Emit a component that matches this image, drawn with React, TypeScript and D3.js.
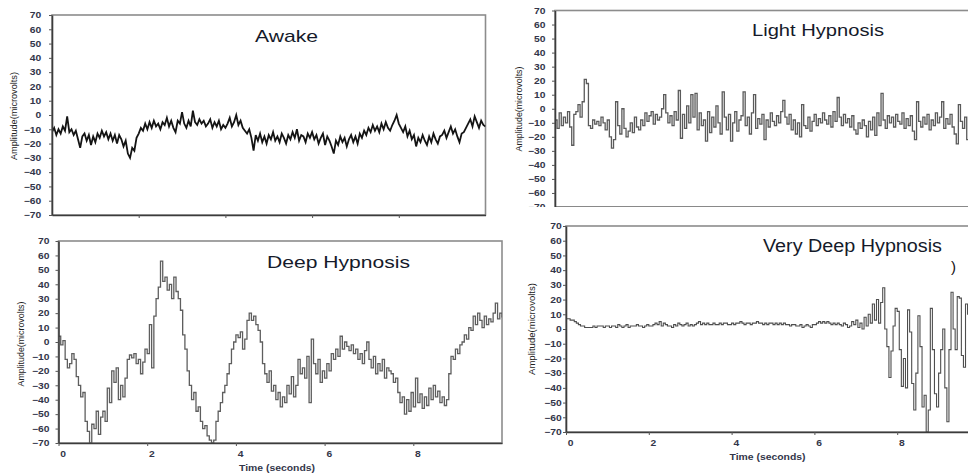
import * as d3 from "d3";
import React, { useRef, useEffect } from "react";

// amplitude ticks (microvolts) and time ticks (seconds)
const yTickValues = [70, 60, 50, 40, 30, 20, 10, 0, -10, -20, -30, -40, -50, -60, -70];
const xTickValues = [0, 2, 4, 6, 8];
const sampleStep = 0.05; // seconds between samples

// traces, one value every 0.05 s from 0 to 10 s
const awake = [
  -12, -9, -14, -10, -13, -8, -11, -1, -12, -10,
  -14, -11, -17, -23, -15, -13, -18, -14, -21, -15,
  -19, -13, -16, -11, -15, -12, -17, -13, -18, -14,
  -20, -14, -17, -22, -18, -27, -30, -23, -25, -16,
  -13, -9, -11, -6, -10, -5, -9, -4, -8, -6,
  -10, -5, -7, -2, -8, -4, -9, -12, -4, -6,
  2, -6, -9, -4, -8, 3, -5, -7, -3, -6,
  -4, -8, -6, -3, -9, -5, -8, -4, -10, -7,
  -9, -6, -2, -8, -5, 0, -7, -4, -9, -11,
  -13, -10, -16, -25, -14, -18, -13, -19, -15, -20,
  -14, -17, -12, -18, -15, -19, -13, -16, -20, -14,
  -17, -12, -16, -10, -18, -14, -15, -19, -13, -16,
  -12, -17, -14, -20, -16, -13, -21, -15, -18, -22,
  -27, -18, -21, -15, -19, -16, -22, -17, -14, -19,
  -15, -20, -13, -16, -11, -14, -9, -12, -7, -11,
  -8, -12, -6, -10, -5, -9, -11, -7, -4, 0,
  -6, -9, -12, -8, -15, -11, -17, -14, -22, -16,
  -19, -14, -18, -21, -15, -19, -13, -17, -20, -15,
  -14, -11, -16, -12, -8, -13, -10, -15, -19, -13,
  -12, -9, -6, -3, -8, -1, -5, -9, -4, -7,
  -8,
];

const lightHypnosis = [
  -8, -14, -3, -12, -6, -10, -2, -13, -26, -4,
  -2, 3, -6, 5, 21, 18, -12, -14, -8, -11,
  -9, -12, -6, -10, -15, -8, -20, -28, -22, 5,
  -12, -18, 0, -14, -20, -16, -10, -17, -6, -13,
  -15, -8, -12, -3, -9, -5, -2, -11, -4, -8,
  -6, 0, 10, -3, -10, -5, -12, -2, -8, 13,
  -21, -4, -14, 2, -10, 10, -6, 11, -15, -3,
  -12, -8, -23, -2, -17, -6, -13, 2, -10, -18,
  12, -6, -15, -4, -23, -10, -2, -16, -8, -5,
  12, -12, -6, -18, -3, 10, -14, -7, -11, -4,
  -22, -8, -13, -3, -9, -12, -5, -10, -2, 6,
  -6, -11, -4, -15, -8, -18, -10, -20, 3, -12,
  -14, -6, -16, -9, -4, -12, -7, -10, -3, -8,
  -11, -5, -13, -2, -9, 8, -6, -12, -4, -10,
  -7, -13, -5, -15, -18, -10, -14, -8, -12, -20,
  -9, -15, -6, -19, -3, -12, 11, -8, -14, -5,
  -10, -6, -13, -4, -9, -11, -3, -14, -7, -12,
  -5, -16, -22, 5, -9, -13, -6, -11, -4, -15,
  -8, -12, -3, -10, -6, 5, -14, -7, -11, -4,
  -13, -18, -25, 3, -9, -14, -6, -22, -10, -8,
  -12,
];

const deepHypnosis = [
  4, -2, 1, -12, -18, -15, -8, -12, -24, -30,
  -38, -35, -55, -62, -70, -57, -60, -48, -64, -52,
  -48, -55, -32, -42, -20, -28, -18, -40, -30, -38,
  -25, -12, -9, -11, -8, -15, -12, -22, -14, -5,
  -8, 12, -18, 18, 30, 38, 56, 42, 45, 36,
  40, 30, 45, 35, 30, 22, 5, -5, -20, -30,
  -40, -35, -48, -45, -55, -60, -58, -65, -68, -70,
  -68, -55, -48, -42, -35, -30, -22, -15, -5, 0,
  5, 3, 7, -5, 2, 15, 20, 15, 18, 12,
  8, 0, -15, -22, -28, -20, -34, -30, -40, -35,
  -45, -38, -42, -30, -36, -24, -38, -30, -12, -22,
  -18, -25, -10, -42, 2, -15, -22, -12, -28, -20,
  -25, -15, -20, -8, -12, -5, -10, 4, -5, 0,
  -3, -6, -2, -8, -5, -12, -8, -15, -6, 0,
  -12, -18, -10, -22, -15, -20, -12, -25, -18, -20,
  -22, -28, -25, -35, -42, -38, -50, -40, -48, -35,
  -45, -25, -42, -36, -46, -38, -44, -32, -40, -30,
  -38, -34, -42, -38, -44, -40, -22, -10, -12, -5,
  -8, -2, 0, 5, 2, 10, 8, 18, 12, 20,
  15, 10, 18, 12, 16, 14, 20, 27, 16, 20,
  17,
];

const veryDeepHypnosis = [
  7, 7, 6, 6, 5, 4, 3, 2, 2, 1,
  1, 1, 1, 2, 1, 2, 2, 2, 1, 2,
  2, 1, 2, 2, 1, 3, 2, 1, 2, 3,
  1, 2, 2, 2, 3, 2, 2, 1, 2, 3,
  2, 2, 3, 4, 3, 5, 2, 4, 3, 2,
  2, 1, 3, 2, 4, 3, 2, 3, 4, 2,
  3, 2, 3, 4, 5, 3, 4, 3, 4, 3,
  3, 4, 3, 3, 4, 3, 4, 4, 3, 3,
  4, 3, 4, 4, 5, 4, 3, 4, 4, 3,
  4, 4, 5, 4, 4, 3, 4, 3, 4, 4,
  3, 4, 3, 4, 3, 4, 3, 3, 2, 3,
  3, 2, 2, 3, 1, 2, 3, 2, 1, 3,
  3, 4, 5, 4, 5, 4, 5, 4, 3, 4,
  3, 4, 3, 2, 4, 3, 1, 2, 5, 3,
  6, 1, 4, 0, 8, 2, 10, 4, 17, 6,
  20, 4, 18, 28, 0, -12, -33, -15, 2, 14,
  12, -14, -39, -20, -40, 13, -2, -37, -55, -30,
  9, -12, -53, -45, -70, -55, 14, -14, -44, -53,
  -30, -14, 0, -40, -63, -14, 25, 0, -14, 22,
  21, -18, -26, 17, 10, -20, 5, -15, 8, -10,
  0,
];

const titles = ["Awake", "Light Hypnosis", "Deep Hypnosis", "Very Deep Hypnosis"];
const series = [awake, lightHypnosis, deepHypnosis, veryDeepHypnosis];

// where each panel of the collage sits
const layout = [
  { x0: 52, x10: 485.5, top: 15, bottom: 215, frameRight: 485.5, pad: 6, timeLabels: false,
    clipBottom: 473, step: false, color: "#141414", width: 1.8,
    title: { x: 255, y: 41.5, len: 63, size: 17 },
    yLab: { x: 15, y: 116, len: 88 } },
  { x0: 555, x10: 973, top: 10.5, bottom: 207, frameRight: 980, pad: 5, timeLabels: false,
    clipBottom: 207, step: true, color: "#5a5a5a", width: 1.3,
    title: { x: 752, y: 35.5, len: 132, size: 16.5 },
    yLab: { x: 520, y: 109, len: 85 } },
  { x0: 58.5, x10: 502, top: 241, bottom: 443, frameRight: 502, pad: 4.5, timeLabels: true,
    clipBottom: 473, step: true, color: "#5e5e5e", width: 1.3,
    title: { x: 267, y: 268, len: 143, size: 17 },
    yLab: { x: 22, y: 344, len: 85 },
    time: { x: 277, y: 471 } },
  { x0: 566, x10: 980, top: 226, bottom: 432, frameRight: 990, pad: 0.5, timeLabels: true,
    clipBottom: 473, step: true, color: "#4e4e4e", width: 1.1,
    title: { x: 763, y: 251.5, len: 179, size: 17.5 },
    yLab: { x: 533, y: 329, len: 92 },
    time: { x: 767.5, y: 460 } },
];

const font = "'Liberation Sans', Arial, sans-serif";
const labelFill = "#33364a";

function EegPanels() {
  const svgRef = useRef<SVGSVGElement>(null);

  useEffect(() => {
    const svg = d3.select(svgRef.current);
    svg.selectAll("*").remove();

    layout.forEach((p, k) => {
      const x = d3.scaleLinear().domain([0, 10]).range([p.x0, p.x10]);
      const y = d3.scaleLinear().domain([-70, 70]).range([p.bottom, p.top]);

      svg.append("clipPath").attr("id", `cut${k}`)
        .append("rect").attr("x", 0).attr("y", 0).attr("width", 968).attr("height", p.clipBottom);
      svg.append("clipPath").attr("id", `plot${k}`)
        .append("rect").attr("x", p.x0).attr("y", p.top - 2)
        .attr("width", p.frameRight - p.x0).attr("height", p.bottom - p.top + 3);

      const g = svg.append("g").attr("clip-path", `url(#cut${k})`);

      // frame
      g.append("rect")
        .attr("x", p.x0).attr("y", p.top)
        .attr("width", p.frameRight - p.x0).attr("height", p.bottom - p.top)
        .attr("fill", "none").attr("stroke", "#8c8c8c").attr("stroke-width", 1.6);

      // trace
      const line = d3.line<number>()
        .x((d, i) => x(i * sampleStep))
        .y(d => y(d))
        .curve(p.step ? d3.curveStepAfter : d3.curveLinear);

      g.append("path")
        .datum(series[k])
        .attr("clip-path", `url(#plot${k})`)
        .attr("d", line)
        .attr("fill", "none")
        .attr("stroke", p.color)
        .attr("stroke-width", p.width);

      // y axis
      const yAxis = g.append("g")
        .attr("transform", `translate(${p.x0},0)`)
        .call(d3.axisLeft(y).tickValues(yTickValues).tickSize(3).tickSizeOuter(0).tickPadding(p.pad));
      yAxis.select(".domain").attr("stroke", "#3c3c3c").attr("stroke-width", 1.6);
      yAxis.selectAll(".tick line").attr("stroke", "#555");
      yAxis.selectAll(".tick text")
        .attr("font-family", font).attr("font-size", 8.6).attr("font-weight", "bold")
        .attr("fill", labelFill).attr("transform", "scale(1.2,1)");

      // x axis
      const xAxis = g.append("g")
        .attr("transform", `translate(0,${p.bottom})`)
        .call(d3.axisBottom(x)
          .tickValues(p.timeLabels ? xTickValues : xTickValues.slice(1))
          .tickSize(3).tickSizeOuter(0).tickPadding(p.timeLabels ? 5 : 3)
          .tickFormat(d => (p.timeLabels ? String(d) : "")));
      xAxis.select(".domain").attr("stroke", "#3c3c3c").attr("stroke-width", 1.6);
      xAxis.selectAll(".tick line").attr("stroke", "#555");
      xAxis.selectAll(".tick text")
        .attr("font-family", font).attr("font-size", 8.6).attr("font-weight", "bold")
        .attr("fill", labelFill).attr("dx", 3.5).attr("transform", "scale(1.2,1)");

      // panel title
      g.append("text")
        .text(titles[k])
        .attr("x", p.title.x).attr("y", p.title.y)
        .attr("textLength", p.title.len).attr("lengthAdjust", "spacingAndGlyphs")
        .attr("font-family", font).attr("font-size", p.title.size)
        .attr("fill", "#151a2a");

      // amplitude label
      g.append("text")
        .text("Amplitude(microvolts)")
        .attr("transform", `translate(${p.yLab.x},${p.yLab.y}) rotate(-90)`)
        .attr("text-anchor", "middle").attr("dominant-baseline", "middle")
        .attr("textLength", p.yLab.len).attr("lengthAdjust", "spacingAndGlyphs")
        .attr("font-family", font).attr("font-size", 9)
        .attr("fill", "#222");

      if (p.time) {
        g.append("text")
          .text("Time (seconds)")
          .attr("x", p.time.x).attr("y", p.time.y)
          .attr("text-anchor", "middle")
          .attr("textLength", 76).attr("lengthAdjust", "spacingAndGlyphs")
          .attr("font-family", font).attr("font-size", 9).attr("font-weight", "bold")
          .attr("fill", labelFill);
      }
    });

    // stray bracket left over in the source figure
    svg.append("text")
      .text(")")
      .attr("x", 951).attr("y", 272)
      .attr("font-family", font).attr("font-size", 15)
      .attr("fill", "#111");
  }, []);

  return <svg ref={svgRef} width={968} height={473} />;
}

export default function App() {
  return (
    <div style={{ position: "absolute", left: 0, top: 0, width: 968, height: 473, background: "#fff" }}>
      <EegPanels />
    </div>
  );
}
